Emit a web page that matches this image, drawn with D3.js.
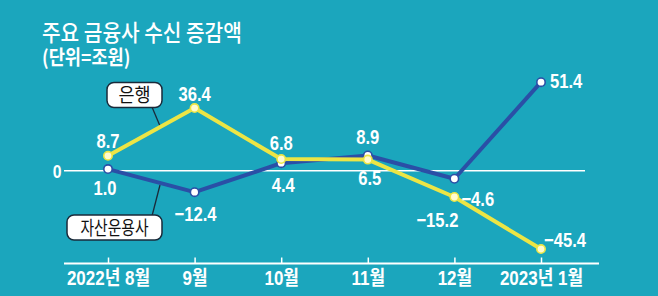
<!DOCTYPE html>
<html>
<head>
<meta charset="utf-8">
<script src="https://cdn.jsdelivr.net/npm/d3@7"></script>
<style>
  html, body { margin: 0; padding: 0; background: #1ba6bd; }
  svg { display: block; }
  .num { font-family: "Liberation Sans", Arial, "Noto Sans CJK KR", sans-serif; font-weight: bold; fill: #fff; }
  .kr { font-family: "Noto Sans CJK KR", sans-serif; }
</style>
</head>
<body>
<svg id="chart"></svg>
<script>
const WIDTH = 658;
const HEIGHT = 296;

// data
const months = ["2022년 8월", "9월", "10월", "11월", "12월", "2023년 1월"];
const bank = [8.7, 36.4, 6.8, 6.5, -15.2, -45.4];      // 은행
const asset = [1.0, -12.4, 4.4, 8.9, -4.6, 51.4];      // 자산운용사

const BLUE = "#2a4fa6";
const YELLOW = "#ece545";
const SQUEEZE = 0.83;   // condensed look of the print font

let svg = d3.select("#chart").attr("width", WIDTH).attr("height", HEIGHT);

svg.append("rect").attr("width", WIDTH).attr("height", HEIGHT).attr("fill", "#1ba6bd");

const x = d3.scalePoint().domain(months).range([108, 541]);
const y = d3.scaleLinear().domain([-50, 55]).range([257, 76]);

// title
svg.append("g").attr("transform", "translate(42,40.5) scale(0.88,1)")
    .append("text").attr("class", "kr").attr("fill", "#fff")
    .style("font-size", "23px").style("font-weight", "500")
    .text("주요 금융사 수신 증감액");
svg.append("g").attr("transform", "translate(42,64.5) scale(0.88,1)")
    .append("text").attr("class", "kr").attr("fill", "#fff")
    .style("font-size", "20px").style("font-weight", "bold")
    .text("(단위=조원)");

// zero line
svg.append("line")
    .attr("x1", 64).attr("x2", 585)
    .attr("y1", y(0)).attr("y2", y(0))
    .attr("stroke", "#fff").attr("stroke-width", 1.6);
svg.append("g").attr("transform", `translate(57,${y(0) + 7}) scale(${SQUEEZE},1)`)
    .append("text").attr("class", "num")
    .attr("text-anchor", "middle").style("font-size", "19px")
    .text("0");

// x axis
const axisY = 263.5;
let xAxis = svg.append("g").attr("transform", `translate(0,${axisY})`)
    .call(d3.axisBottom(x).tickSizeInner(-6).tickSizeOuter(0).tickPadding(7));
xAxis.select(".domain").remove();
xAxis.insert("line", ":first-child")
    .attr("x1", 64).attr("x2", 599)
    .attr("stroke", "#fff").attr("stroke-width", 2);
xAxis.selectAll(".tick line").attr("stroke", "#fff").attr("stroke-width", 1.5);
xAxis.selectAll(".tick text")
    .attr("class", "num")
    .attr("fill", "#fff")
    .attr("transform", "scale(0.85,1)")
    .style("font-size", "20px");

// lines
const line = d3.line().x((d, i) => x(months[i])).y(d => y(d));

// callout pointers
svg.append("line").attr("x1", 152).attr("y1", 107).attr("x2", 160).attr("y2", 126)
    .attr("stroke", "#1a2a3a").attr("stroke-width", 1.3);
svg.append("line").attr("x1", 152).attr("y1", 216).attr("x2", 160).attr("y2", 185)
    .attr("stroke", "#1a2a3a").attr("stroke-width", 1.3);

svg.append("path").datum(asset).attr("d", line)
    .attr("fill", "none").attr("stroke", BLUE).attr("stroke-width", 4).attr("stroke-linejoin", "round");
svg.append("path").datum(bank).attr("d", line)
    .attr("fill", "none").attr("stroke", YELLOW).attr("stroke-width", 4).attr("stroke-linejoin", "round");

svg.selectAll("circle.asset").data(asset).enter().append("circle")
    .attr("class", "asset")
    .attr("cx", (d, i) => x(months[i])).attr("cy", d => y(d)).attr("r", 4.2)
    .attr("fill", "#fff").attr("stroke", BLUE).attr("stroke-width", 1.6);
svg.selectAll("circle.bank").data(bank).enter().append("circle")
    .attr("class", "bank")
    .attr("cx", (d, i) => x(months[i])).attr("cy", d => y(d)).attr("r", 4.2)
    .attr("fill", "#fffbd0").attr("stroke", YELLOW).attr("stroke-width", 1.6);

// value labels: offsets [dx, dy, anchor]
const fmt = v => (v < 0 ? "\u2212" + Math.abs(v).toFixed(1) : v.toFixed(1));
const bankOff = [[0, -8, "middle"], [0, -7, "middle"], [0, -9, "middle"], [2, 25, "middle"], [-17, 30, "middle"], [3, -2, "start"]];
const assetOff = [[-3, 26, "middle"], [1, 29, "middle"], [2, 29, "middle"], [0, -11, "middle"], [7, 27, "start"], [9, 6, "start"]];

function labels(data, off) {
    svg.append("g").selectAll("g").data(data).enter().append("g")
        .attr("transform", (d, i) => `translate(${x(months[i]) + off[i][0]},${y(d) + off[i][1]}) scale(${SQUEEZE},1)`)
        .append("text")
        .attr("class", "num")
        .attr("text-anchor", (d, i) => off[i][2])
        .style("font-size", "20px")
        .text(fmt);
}
labels(bank, bankOff);
labels(asset, assetOff);

// legend boxes
function callout(cx, cy, w, h, label, sx) {
    let g = svg.append("g");
    g.append("rect").attr("x", cx - w / 2).attr("y", cy - h / 2)
        .attr("width", w).attr("height", h).attr("rx", 7)
        .attr("fill", "#fff").attr("stroke", "#1a2a3a").attr("stroke-width", 1.5);
    g.append("g").attr("transform", `translate(${cx},${cy + 7}) scale(${sx},1)`)
        .append("text").attr("class", "kr")
        .attr("text-anchor", "middle")
        .style("font-size", "19px").attr("fill", "#111")
        .text(label);
}
callout(134.5, 95, 55, 25, "은행", 0.92);
callout(114.5, 227.5, 95, 25, "자산운용사", 0.78);
</script>
</body>
</html>
